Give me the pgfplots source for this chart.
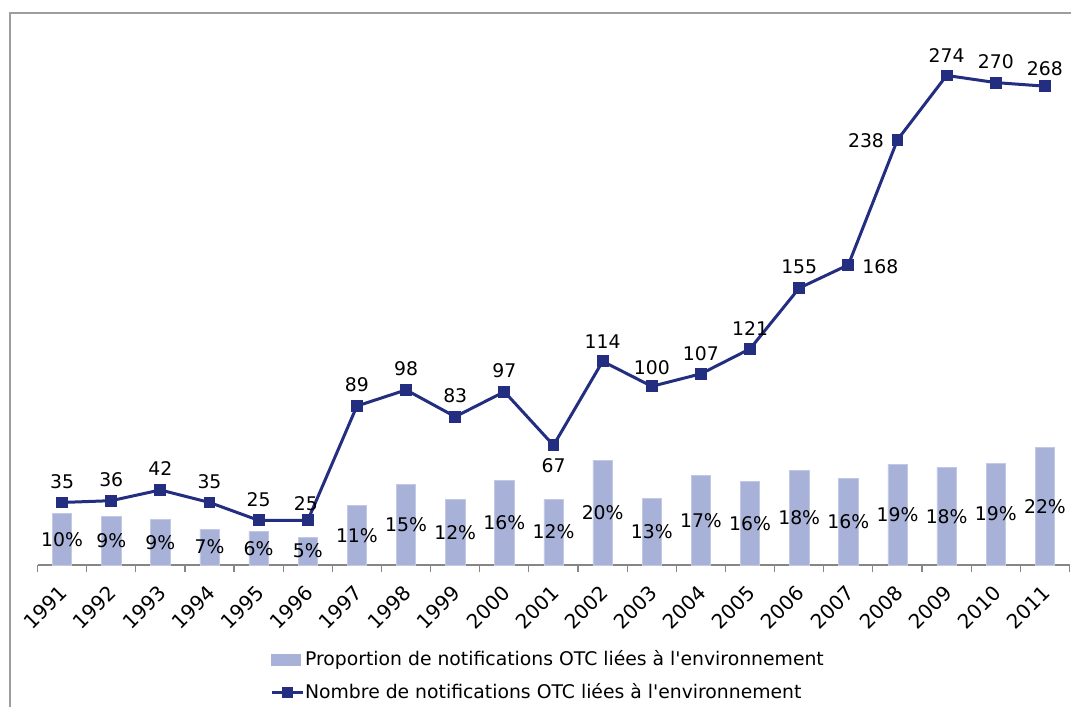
\documentclass[border=0pt]{standalone}
\usepackage{pgfplots}
\usepackage{pgfplotstable}
\usepackage{fontspec}
\setmainfont{DejaVu Sans}[Ligatures=TeXOff]
\pgfplotsset{compat=1.18}

\definecolor{barfill}{RGB}{168,178,216}
\definecolor{navy}{RGB}{36,46,128}
\definecolor{axisgray}{RGB}{134,134,134}

\pgfplotsset{
  linelegend/.style={legend image code/.code={%
    \draw[##1, mark repeat=2, mark phase=2, line width=1.5pt, mark size=1.8pt]
      plot coordinates {(0pt,0pt) (7.9pt,0pt) (15.8pt,0pt)};}},
  barlegend/.style={legend image code/.code={%
    \fill[barfill] (0pt,-2.65pt) rectangle (14.5pt,2.65pt);}},
}

% year, bar height (%), printed label
\pgfplotstableread{
year p    lab
1991 9.6  10
1992 9.0  9
1993 8.5  9
1994 6.7  7
1995 6.2  6
1996 5.2  5
1997 11.1 11
1998 15.0 15
1999 12.2 12
2000 15.8 16
2001 12.3 12
2002 19.5 20
2003 12.4 13
2004 16.7 17
2005 15.6 16
2006 17.6 18
2007 16.1 16
2008 18.7 19
2009 18.2 18
2010 19.0 19
2011 21.9 22
}\bars

% year, count, label offsets (pt)
\pgfplotstableread{
year n   dx    dy
1991 35  0     10.5
1992 36  0     10.5
1993 42  0     10.5
1994 35  0     10.5
1995 25  0     10.2
1996 25  -1    8.5
1997 89  0     10.5
1998 98  0     10.5
1999 83  0     10.5
2000 97  0     10.5
2001 67  0     -10
2002 114 0     10
2003 100 0     9.5
2004 107 0     10
2005 121 0     10
2006 155 0     10.5
2007 168 16    -1
2008 238 -15.75 -0.5
2009 274 0     10
2010 270 0     10.5
2011 268 0     9
}\counts

\begin{document}
\begin{tikzpicture}[font=\fontsize{9.4pt}{11pt}\selectfont]
\pgfplotsset{
  /pgf/number format/assume math mode=true,
  every axis/.append style={
    scale only axis, width=516pt, height=268pt,
    at={(18.75pt,71pt)}, anchor=south west,
    xmin=1990.5, xmax=2011.5, clip=false,
  },
}
\useasboundingbox (0,0) rectangle (535.5pt,353.5pt);
\draw[axisgray!80, line width=0.6pt] (5pt,0pt) -- (5pt,347pt) -- (535.5pt,347pt);

\begin{axis}[
  ymin=0, ymax=100,
  axis x line*=bottom, axis y line=none,
  x axis line style={axisgray, line width=0.75pt, -},
  xtick=data,
  xticklabel style={xshift=3.3pt, yshift=-9.8pt, rotate=45, anchor=east,
    font=\fontsize{10pt}{12pt}\selectfont, /pgf/number format/1000 sep={}},
  minor xtick={1990.5,1991.5,...,2011.5},
  major tick length=0pt, minor tick length=3.5pt, tick align=outside,
  minor tick style={axisgray, line width=0.6pt},
]
\addplot[ybar, bar width=9.7pt, fill=barfill, draw=barfill!70!white, line width=0.3pt]
  table[x=year, y=p] \bars;
\addplot[draw=none, point meta=explicit,
  nodes near coords={\pgfmathprintnumber{\pgfplotspointmeta}\%},
  every node near coord/.append style={anchor=center, text=black}]
  table[x=year, y expr=\thisrow{p}/2, meta=lab] \bars;
\end{axis}

\begin{axis}[
  ymin=0, ymax=300, hide axis,
  legend style={at={(0.225,-0.1585)}, anchor=north west, draw=none, fill=none,
    inner sep=0pt, row sep=6.9pt, nodes={inner sep=0.2pt, anchor=west},
    legend cell align=left},
]
\addlegendimage{barlegend}
\addlegendentry{Proportion de notifications OTC liées à l'environnement}
\addplot[navy, line width=1.5pt, mark=square*, mark size=2.2pt,
  mark options={solid}, linelegend,
  point meta=y,
  visualization depends on={\thisrow{dx} \as \dx},
  visualization depends on={\thisrow{dy} \as \dy},
  nodes near coords,
  every node near coord/.append style={anchor=center, text=black, xshift=\dx pt, yshift=\dy pt},
] table[x=year, y=n] \counts;
\addlegendentry{Nombre de notifications OTC liées à l'environnement}
\end{axis}
\end{tikzpicture}
\end{document}
